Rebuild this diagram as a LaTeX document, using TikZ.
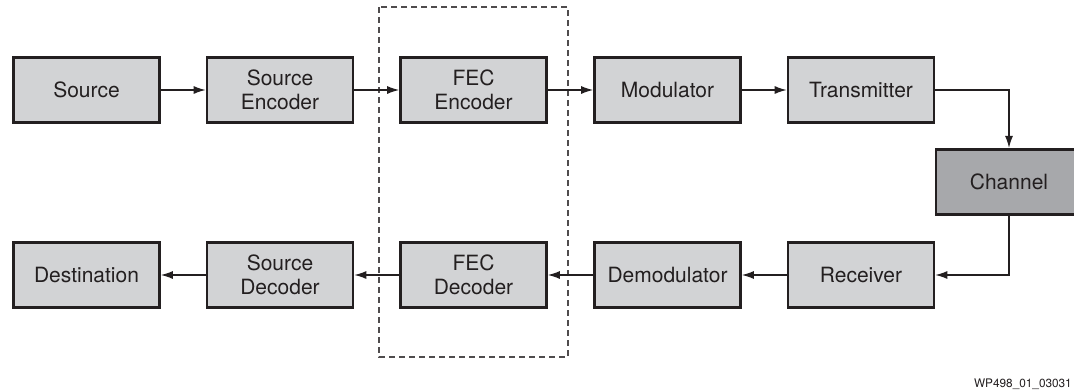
\documentclass[tikz,border=0pt]{standalone}
\usepackage{fontspec}
\setmainfont{TeX Gyre Heros}
\usetikzlibrary{arrows.meta}
\definecolor{boxgray}{RGB}{210,211,213}
\definecolor{changray}{RGB}{167,168,171}
\definecolor{ink}{RGB}{35,31,32}
\begin{document}
\begin{tikzpicture}[x=1pt,y=-1pt,
  blk/.style={draw=ink,line width=2.6pt,fill=boxgray,minimum width=146pt,minimum height=65.5pt,
    inner sep=0pt,align=center,text=ink,font=\fontsize{21}{24}\selectfont},
  conn/.style={draw=ink,line width=1.3pt,-{Latex[length=12pt,width=8pt]}},
  fecbox/.style={draw=ink!80,line width=1.4pt,dash pattern=on 6pt off 4pt}]
\useasboundingbox (0,0) rectangle (1074,391);
\node[blk] (src) at (86.5,90) {Source};
\node[blk] (senc) at (280,90) {Source\\Encoder};
\node[blk] (fenc) at (473.5,90) {FEC\\Encoder};
\node[blk] (mod) at (667.5,90) {Modulator};
\node[blk] (tx) at (861,90) {Transmitter};
\node[blk,fill=changray] (ch) at (1009,182) {Channel};
\node[blk] (dst) at (86.5,275) {Destination};
\node[blk] (sdec) at (280,275) {Source\\Decoder};
\node[blk] (fdec) at (473.5,275) {FEC\\Decoder};
\node[blk] (dem) at (667.5,275) {Demodulator};
\node[blk] (rx) at (861,275) {Receiver};
\draw[fecbox] (379,7) rectangle (568,357);
\draw[conn] (src) -- (senc);
\draw[conn] (senc) -- (fenc);
\draw[conn] (fenc) -- (mod);
\draw[conn] (mod) -- (tx);
\draw[conn] (tx.east) -| (ch.north);
\draw[conn] (ch.south) |- (rx.east);
\draw[conn] (rx) -- (dem);
\draw[conn] (dem) -- (fdec);
\draw[conn] (fdec) -- (sdec);
\draw[conn] (sdec) -- (dst);
\node[anchor=base east,inner sep=0pt,text=ink,font=\fontsize{11.8}{13}\selectfont] (lbl) at (1072,387) {WP498\_01\_03031};
\end{tikzpicture}
\end{document}
